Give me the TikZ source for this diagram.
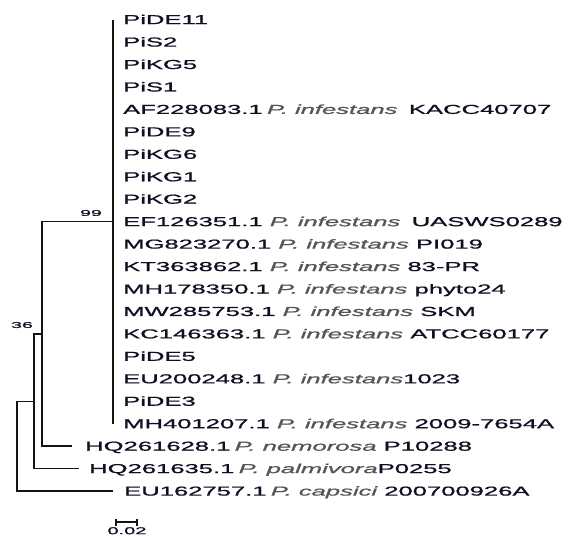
\documentclass[tikz,border=0pt]{standalone}
\usepackage{fontspec}
\usepackage{tikz}
\usetikzlibrary{positioning,calc}
\usepackage{xcolor}
\setmainfont[FakeBold=0.8,BoldFont=Liberation Sans]{Liberation Sans}
\definecolor{branch}{RGB}{20,20,20}
\definecolor{leaftext}{RGB}{15,15,35}
\definecolor{sptext}{RGB}{85,85,85}
% labels in the tree are drawn wide, as in the figure
\newcommand{\wide}[2][1.97]{\scalebox{#1}[1]{#2}}
\newcommand{\spname}[1]{{\mdseries\itshape\color{sptext}#1}}
\tikzset{
  leaf/.style={anchor=base west,inner sep=0pt,font=\fontsize{13}{13}\selectfont\bfseries,text=leaftext},
  boot/.style={inner sep=0pt,font=\fontsize{8.5}{8.5}\selectfont\bfseries,text=leaftext},
  edge/.style={draw=branch,line width=1.4pt}
}

\begin{document}
\begin{tikzpicture}[x=1pt,y=-1pt]
\useasboundingbox (0,0) rectangle (570,536);
% P. infestans clade: zero-length tips on one stem
\foreach \lab [count=\i from 0] in {
PiDE11,PiS2,PiKG5,PiS1,
{AF228083.1\,\spname{P. infestans} \,KACC40707},
PiDE9,PiKG6,PiKG1,PiKG2,
{EF126351.1 \spname{P. infestans} \,UASWS0289},
{MG823270.1 \spname{P. infestans} PI019},
{KT363862.1 \spname{P. infestans} 83-PR},
{MH178350.1 \spname{P. infestans} phyto24},
{MW285753.1 \spname{P. infestans} SKM},
{KC146363.1 \spname{P. infestans} ATCC60177},
PiDE5,
{EU200248.1 \spname{P. infestans}1023},
PiDE3,
{MH401207.1 \spname{P. infestans} 2009-7654A}}{
\node[leaf] (leaf\i) at (123,{19.5+22.45*\i+4.6}) {\wide{\lab}};
}
\coordinate (stemtop) at (113,19.5);
\coordinate (stembot) at (113,423.6);
\coordinate (c99) at (113,221.5);
\draw[edge,line width=1.9pt] (stemtop) -- (stembot);
% outgroups
\coordinate (t628) at (72,446.1);
\coordinate (t635) at (79,468.5);
\coordinate (t757) at (113,491);
\node[leaf] (leaf19) at (85,{446.1+4.6}) {\wide{HQ261628.1\,\spname{P. nemorosa} P10288}};
\node[leaf] (leaf20) at (89,{468.5+4.6}) {\wide{HQ261635.1\,\spname{P. palmivora}P0255}};
\node[leaf] (leaf21) at (124,{491+4.6}) {\wide{EU162757.1\,\spname{P. capsici} 200700926A}};
% internal nodes
\coordinate (nA) at (42,333.8);
\coordinate (nB) at (34,401.2);
\coordinate (root) at (17,446.1);
\draw[edge] (nA) |- (c99);
\draw[edge] (nA) |- (t628);
\draw[edge] (nB) |- (nA);
\draw[edge] (nB) |- (t635);
\draw[edge] (root) |- (nB);
\draw[edge] (root) |- (t757);
% bootstrap values
\node[boot] (b99) at (91,213) {\wide[2.3]{99}};
\node[boot] (b36) at (22,325) {\wide[2.3]{36}};
% scale bar
\coordinate (sbl) at (116,522);
\coordinate (sbr) at (137,522);
\draw[edge,line width=1.2pt] (sbl) -- (sbr);
\draw[edge,line width=1.2pt] ($(sbl)+(0,-3.5)$) -- ($(sbl)+(0,3.5)$);
\draw[edge,line width=1.2pt] ($(sbr)+(0,-3.5)$) -- ($(sbr)+(0,3.5)$);
\node[boot,anchor=north,font=\fontsize{10}{10}\selectfont\bfseries] (sblab) at (127,527) {\wide[2]{0.02}};
\end{tikzpicture}
\end{document}
